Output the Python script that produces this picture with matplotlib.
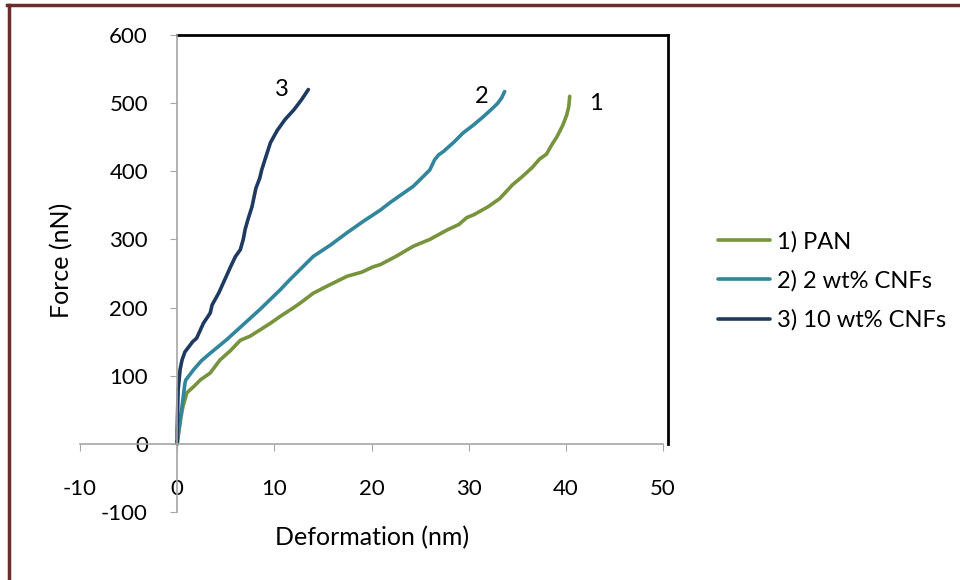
import matplotlib
matplotlib.use("Agg")
import matplotlib.pyplot as plt
from matplotlib.lines import Line2D

plt.rcParams.update(
    {
        "font.family": ["Lato", "DejaVu Sans"],
        "font.size": 16,
        "axes.unicode_minus": False,
    }
)

COLOR_PAN = "#77933C"
COLOR_CNF2 = "#31859C"
COLOR_CNF10 = "#1F3A60"
COLOR_AXIS = "#A6A6A6"
COLOR_BORDER = "#6B2C2C"

# 1) PAN
pan_x = [0, 0.2, 0.4, 0.6, 1.0, 1.7, 2.4, 3.4, 4.4, 5.5, 6.5, 7.5, 8.5, 9.6,
         10.6, 12.0, 12.7, 14.0, 15.5, 17.5, 19.0, 20.2, 20.9, 22.5, 24.3,
         26.0, 27.8, 29.0, 29.8, 30.5, 32.0, 33.2, 34.5, 35.5, 36.5, 37.3,
         38.0, 38.6, 39.1, 39.7, 40.1, 40.3, 40.4]
pan_y = [0, 20, 40, 55, 75, 84, 94, 104, 123, 137, 152, 158, 167, 177,
         187, 200, 207, 221, 232, 246, 252, 260, 263, 275, 290,
         300, 314, 322, 332, 336, 348, 360, 380, 392, 405, 418,
         425, 440, 451, 468, 483, 495, 510]

# 2) 2 wt% CNFs
cnf2_x = [0, 0.2, 0.5, 0.8, 0.9, 1.7, 2.5, 3.4, 5.1, 6.8, 8.5, 10.6, 11.6,
          12.8, 14.0, 15.8, 17.5, 19.2, 20.9, 22.0, 23.3, 24.3, 25.3, 26.0,
          26.5, 26.9, 27.4, 28.5, 29.4, 30.5, 31.5, 32.5, 33.0, 33.4, 33.7]
cnf2_y = [0, 25, 55, 89, 94, 109, 122, 133, 153, 175, 197, 226, 241,
          258, 275, 292, 310, 327, 343, 355, 368, 378, 392, 402,
          417, 424, 429, 443, 456, 468, 480, 493, 500, 508, 517]

# 3) 10 wt% CNFs
cnf10_x = [0, 0.0, 0.05, 0.1, 0.3, 0.5, 0.8, 1.6, 2.0, 2.7, 3.4, 3.6, 4.3,
           4.9, 5.5, 6.0, 6.5, 6.8, 7.0, 7.3, 7.7, 8.1, 8.5, 8.7, 9.1, 9.6,
           10.3, 11.1, 12.0, 12.8, 13.5]
cnf10_y = [0, 20, 50, 79, 109, 123, 135, 150, 155, 177, 192, 204, 222,
           241, 260, 275, 285, 300, 315, 330, 348, 375, 390, 402, 420, 442,
           460, 476, 490, 505, 520]

series = [
    (pan_x, pan_y, COLOR_PAN, "1) PAN", "1", (43.1, 500)),
    (cnf2_x, cnf2_y, COLOR_CNF2, "2) 2 wt% CNFs", "2", (31.3, 510)),
    (cnf10_x, cnf10_y, COLOR_CNF10, "3) 10 wt% CNFs", "3", (10.8, 520)),
]

fig = plt.figure(figsize=(9.6, 5.8), dpi=100)
ax = fig.add_axes([80 / 960, 68 / 580, 583 / 960, 477 / 580])

for xs, ys, color, label, tag, pos in series:
    ax.plot(xs, ys, color=color, lw=2.6, label=label, solid_capstyle="round")
    ax.text(pos[0], pos[1], tag, ha="center", va="center", fontsize=17)

ax.set_xlim(-10, 50)
ax.set_ylim(-100, 600)
ax.set_xticks(range(-10, 51, 10))
ax.set_yticks(range(-100, 601, 100))

for side in ("top", "right"):
    ax.spines[side].set_visible(False)
for side in ("left", "bottom"):
    ax.spines[side].set_position(("data", 0))
    ax.spines[side].set_color(COLOR_AXIS)
    ax.spines[side].set_linewidth(1.2)

ax.tick_params(axis="x", direction="out", length=5, color=COLOR_AXIS, pad=20)
ax.tick_params(axis="y", direction="out", length=5, color=COLOR_AXIS, pad=16)

# black frame on top and right
ax.plot([0, 50.5], [600, 600], color="black", lw=2, clip_on=False)
ax.plot([50.5, 50.5], [0, 600], color="black", lw=2, clip_on=False)

ax.set_xlabel("Deformation (nm)", fontsize=18)
ax.set_ylabel("Force (nN)", fontsize=18)
ax.xaxis.set_label_coords(0.501, -0.03)
ax.yaxis.set_label_coords(-0.012, 0.528)

ax.legend(
    loc="upper left",
    bbox_to_anchor=(718 / 960, (580 - 231) / 580),
    bbox_transform=fig.transFigure,
    frameon=False,
    fontsize=17,
    handlelength=2.2,
    handletextpad=0.3,
    labelspacing=0.75,
    borderpad=0,
    borderaxespad=0,
)

# outer border
fig.add_artist(Line2D([7 / 960, 1], [1 - 5 / 580, 1 - 5 / 580],
                      color=COLOR_BORDER, lw=2.5))
fig.add_artist(Line2D([9 / 960, 9 / 960], [0, 1 - 5 / 580],
                      color=COLOR_BORDER, lw=2.5))

fig.savefig("out.png", dpi=100)
